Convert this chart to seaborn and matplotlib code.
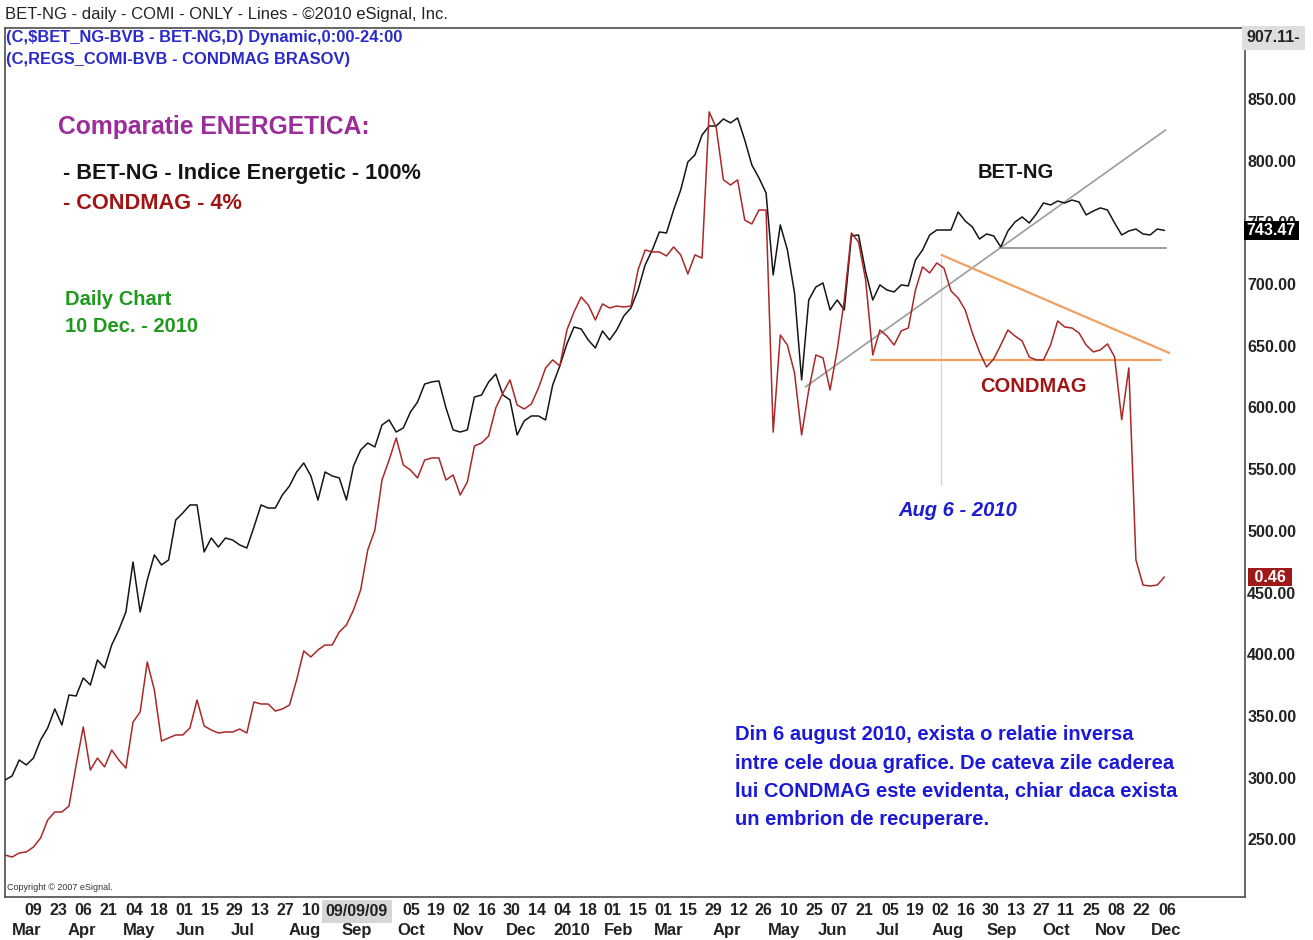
import numpy as np
import pandas as pd
import seaborn as sns
import matplotlib.pyplot as plt

# axa x = sedinte de tranzactionare (0 = 09 Mar 2009), eticheta la fiecare 10 sedinte
day_labels = ['09', '23', '06', '21', '04', '18', '01', '15', '29', '13', '27', '10', '', '', '',
              '05', '19', '02', '16', '30', '14', '04', '18', '01', '15', '01', '15', '29', '12',
              '26', '10', '25', '07', '21', '05', '19', '02', '16', '30', '13', '27', '11', '25',
              '08', '22', '06']
month_labels = ['Mar', 'Apr', 'May', 'Jun', 'Jul', 'Aug', 'Sep', 'Oct', 'Nov', 'Dec', '2010',
                'Feb', 'Mar', 'Apr', 'May', 'Jun', 'Jul', 'Aug', 'Sep', 'Oct', 'Nov', 'Dec']
month_bars = [-5, 17, 39, 60, 82, 105, 126, 148, 170, 191, 210, 230, 250, 273, 295, 315, 338,
              360, 382, 404, 425, 447]
yticks = [250, 300, 350, 400, 450, 500, 550, 600, 650, 700, 750, 800, 850]

# BET-NG (indice energetic)
bet_ng = [298.1, 301.4, 314.3, 310.3, 315.9, 330.5, 340.3, 355.7, 342.7, 367.0,
          366.2, 380.8, 375.1, 395.4, 388.9, 407.5, 419.7, 434.3, 474.8, 434.3,
          460.2, 480.5, 472.4, 476.4, 508.8, 514.5, 521.0, 521.0, 482.9, 494.2,
          486.9, 494.2, 492.6, 488.6, 486.1, 503.1, 521.0, 518.5, 518.5, 529.1,
          536.4, 547.7, 555.0, 544.5, 525.0, 547.7, 544.5, 542.9, 525.0, 552.6,
          565.5, 571.2, 568.0, 585.8, 589.9, 580.1, 583.4, 596.3, 604.4, 619.0,
          620.7, 621.5, 599.6, 581.8, 580.1, 581.8, 608.5, 610.1, 620.7, 627.1,
          610.1, 606.1, 577.7, 589.1, 593.1, 593.1, 589.9, 618.2, 633.6, 651.5,
          665.2, 663.6, 654.7, 648.2, 662.0, 654.7, 662.8, 674.1, 680.6, 695.2,
          715.5, 727.6, 742.2, 741.4, 760.0, 776.3, 798.9, 804.6, 820.8, 828.1,
          828.1, 833.8, 830.6, 834.6, 816.8, 796.5, 786.0, 773.8, 707.4, 747.9,
          727.6, 692.8, 622.3, 687.1, 697.6, 700.9, 679.0, 687.1, 679.0, 739.0,
          739.8, 709.8, 687.1, 699.3, 695.2, 693.6, 699.3, 698.5, 719.5, 727.6,
          739.8, 743.8, 743.8, 743.8, 758.4, 751.1, 746.3, 736.5, 740.6, 739.0,
          730.1, 743.0, 750.3, 754.4, 749.5, 756.8, 765.7, 764.1, 767.3, 765.7,
          768.1, 766.5, 756.0, 759.2, 761.7, 760.0, 749.5, 739.8, 743.0, 744.6,
          740.6, 739.8, 744.6, 743.47]

# CONDMAG (pe aceeasi scara)
condmag = [237.3, 235.7, 239.0, 239.8, 243.8, 251.1, 265.7, 272.2, 272.2, 277.0,
           310.3, 341.1, 306.2, 315.9, 308.7, 322.4, 314.3, 307.8, 345.1, 353.2,
           393.7, 371.0, 329.7, 332.2, 334.6, 334.6, 340.3, 362.9, 341.9, 338.6,
           336.2, 337.0, 337.0, 339.4, 336.2, 361.3, 359.7, 359.7, 354.0, 355.7,
           358.9, 379.2, 402.7, 397.8, 403.5, 407.5, 407.5, 418.1, 423.7, 435.9,
           452.1, 484.5, 500.7, 541.2, 557.4, 575.3, 553.4, 549.3, 542.9, 557.4,
           559.1, 559.1, 541.2, 545.3, 529.1, 539.6, 568.8, 571.2, 576.9, 599.6,
           611.7, 622.3, 602.0, 598.8, 602.8, 615.8, 632.0, 638.5, 633.6, 662.8,
           677.4, 689.5, 683.1, 670.9, 683.9, 680.6, 682.2, 681.4, 682.2, 711.4,
           727.6, 726.0, 726.0, 722.8, 730.1, 723.6, 708.2, 723.6, 721.1, 839.5,
           826.5, 784.4, 780.3, 784.4, 751.9, 748.7, 760.0, 760.0, 580.0, 658.7,
           650.6, 628.0, 577.7, 614.2, 642.5, 640.1, 614.2, 646.6, 687.1, 741.4,
           734.1, 703.3, 642.5, 662.8, 657.9, 650.6, 662.0, 664.4, 695.2, 713.9,
           709.0, 717.1, 713.0, 694.4, 688.7, 679.0, 660.4, 645.0, 632.8, 639.3,
           650.6, 662.8, 657.9, 653.9, 640.9, 638.5, 638.5, 650.6, 670.1, 665.2,
           664.4, 660.4, 650.6, 645.0, 646.6, 651.5, 640.9, 590.0, 632.0, 476.4,
           456.1, 455.3, 456.1, 462.6]

# linii trasate de mana (sedinta, valoare)
trend_up = ([310, 453], [616.6, 824.9])
support_bet = ([387, 453], [729.3, 729.3])
support_cond = ([336, 451], [638.5, 638.5])
resist_cond = ([364, 454.4], [723.6, 644.2])
aug6 = 364

session = np.linspace(-7.7, 452.5, len(bet_ng))
df = pd.DataFrame({'session': session, 'BET-NG': bet_ng, 'CONDMAG': condmag})

sns.set_style('white')
plt.rcParams['font.family'] = ['Liberation Sans', 'DejaVu Sans']

fig, ax = plt.subplots(figsize=(13.13, 9.4), dpi=100)
fig.subplots_adjust(left=5 / 1313, right=1245 / 1313, top=1 - 28 / 940, bottom=1 - 897 / 940)

# linii de tendinta
ax.plot(*trend_up, color='#9c9c9c', lw=1.2, zorder=2)
ax.plot(*support_bet, color='#9c9c9c', lw=1.4, zorder=2)
ax.plot(*support_cond, color='#f0a060', lw=1.6, zorder=2)
ax.plot(*resist_cond, color='#f0a060', lw=1.6, zorder=2)
ax.plot([aug6, aug6], [537, 721], color='#d4d4d4', lw=0.9, zorder=1)

sns.lineplot(data=df, x='session', y='BET-NG', ax=ax, color='#151515', lw=1.1, estimator=None, zorder=3)
sns.lineplot(data=df, x='session', y='CONDMAG', ax=ax, color='#aa2828', lw=1.1, estimator=None, zorder=3)

ax.set_xlim(-7.7, 484.5)
ax.set_ylim(203.3, 907.5)
ax.set_xlabel('')
ax.set_ylabel('')

# axa y in dreapta
ax.yaxis.tick_right()
ax.set_yticks(yticks)
ax.set_yticklabels([f'{v:.2f}' for v in yticks], fontweight='bold')
ax.tick_params(axis='y', length=0, pad=1.5, labelsize=11.5, colors='#222222')

# axa x: zile + luni (lunile nu se elimina cand cad pe aceeasi sedinta)
ax.xaxis.remove_overlapping_locs = False
ax.set_xticks(np.arange(0, 451, 10))
ax.set_xticklabels(day_labels, ha='left', fontweight='bold')
ax.set_xticks(month_bars, minor=True)
ax.set_xticklabels(month_labels, minor=True, ha='left', fontweight='bold')
ax.tick_params(axis='x', which='major', length=0, pad=4, labelsize=11.5, colors='#222222')
ax.tick_params(axis='x', which='minor', length=0, pad=19, labelsize=12, colors='#222222')

for s in ax.spines.values():
    s.set_color('#5a5a5a')
    s.set_linewidth(1.3)

xt = ax.get_xaxis_transform()
yt = ax.get_yaxis_transform()
ax.text(132, -0.0165, '09/09/09', transform=xt, ha='center', va='center', fontsize=11.5,
        fontweight='bold', color='#222222', clip_on=False,
        bbox=dict(boxstyle='square,pad=0.25', fc='#d6d6d6', ec='none'))

# etichete pe axa de pret
ax.text(1.0015, 899.4, '907.11-', transform=yt, ha='left', va='center', fontsize=11.5,
        fontweight='bold', color='#222222', clip_on=False, zorder=6,
        bbox=dict(boxstyle='square,pad=0.3', fc='#dedede', ec='none'))
ax.text(1.0015, 743.47, '743.47', transform=yt, ha='left', va='center', fontsize=11.5,
        fontweight='bold', color='white', clip_on=False, zorder=6,
        bbox=dict(boxstyle='square,pad=0.15', fc='black', ec='none'))
ax.text(1.004, 462.6, ' 0.46 ', transform=yt, ha='left', va='center', fontsize=11.5,
        fontweight='bold', color='white', clip_on=False, zorder=6,
        bbox=dict(boxstyle='square,pad=0.1', fc='#a01818', ec='none'))

# texte
fig.text(5 / 1313, 1 - 15 / 940, 'BET-NG - daily - COMI - ONLY - Lines - \u00a92010 eSignal, Inc.',
         ha='left', va='center', fontsize=12, color='#222222')
ax.text(0.001, 0.9896, '(C,$BET_NG-BVB - BET-NG,D) Dynamic,0:00-24:00', transform=ax.transAxes,
        ha='left', va='center', fontsize=11.9, fontweight='bold', color='#2a2ac8')
ax.text(0.001, 0.9643, '(C,REGS_COMI-BVB - CONDMAG BRASOV)', transform=ax.transAxes,
        ha='left', va='center', fontsize=11.9, fontweight='bold', color='#2a2ac8')
ax.text(0.0427, 0.886, 'Comparatie ENERGETICA:', transform=ax.transAxes, ha='left', va='center',
        fontsize=17.7, fontweight='bold', color='#9a2d9a')
ax.text(0.0468, 0.832, '- BET-NG - Indice Energetic - 100%', transform=ax.transAxes, ha='left',
        va='center', fontsize=15.7, fontweight='bold', color='#151515')
ax.text(0.0468, 0.7986, '- CONDMAG - 4%', transform=ax.transAxes, ha='left', va='center',
        fontsize=15.7, fontweight='bold', color='#a01414')
ax.text(0.0484, 0.688, 'Daily Chart', transform=ax.transAxes, ha='left', va='center',
        fontsize=14.5, fontweight='bold', color='#1f9a1f')
ax.text(0.0484, 0.656, '10 Dec. - 2010', transform=ax.transAxes, ha='left', va='center',
        fontsize=14.5, fontweight='bold', color='#1f9a1f')
ax.text(0.8153, 0.834, 'BET-NG', transform=ax.transAxes, ha='center', va='center',
        fontsize=14.5, fontweight='bold', color='#151515')
ax.text(0.829, 0.587, 'CONDMAG', transform=ax.transAxes, ha='center', va='center',
        fontsize=14.5, fontweight='bold', color='#a01414')
ax.text(0.7685, 0.4453, 'Aug 6 - 2010', transform=ax.transAxes, ha='center', va='center',
        fontsize=14.5, fontweight='bold', fontstyle='italic', color='#1c1cd0')

para = ['Din 6 august 2010, exista o relatie inversa',
        'intre cele doua grafice. De cateva zile caderea',
        'lui CONDMAG este evidenta, chiar daca exista',
        'un embrion de recuperare.']
for i, line in enumerate(para):
    ax.text(0.5887, (897 - (735 + 28.3 * i)) / 869, line, transform=ax.transAxes, ha='left',
            va='center', fontsize=14.5, fontweight='bold', color='#1a1ad8')

ax.text(0.002, 0.0115, 'Copyright \u00a9 2007 eSignal.', transform=ax.transAxes, ha='left',
        va='center', fontsize=6.5, color='#333333')

fig.savefig('out.png', dpi=100, facecolor='white')
